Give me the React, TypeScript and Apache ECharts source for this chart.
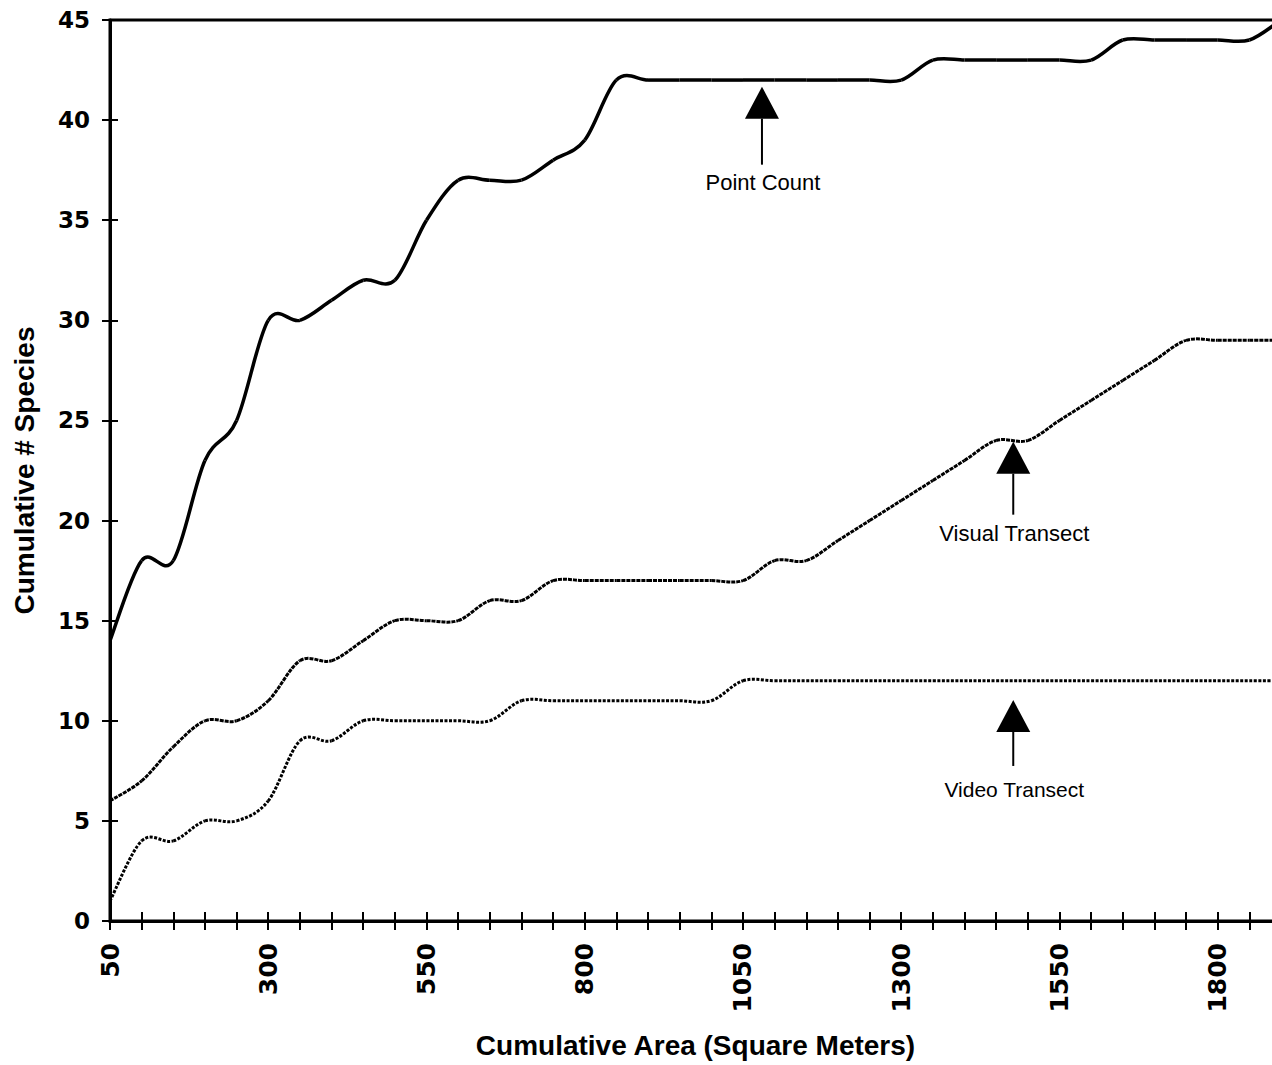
import React, { useEffect, useRef } from "react";
import * as echarts from "echarts";

// Cumulative area (square meters) sampled every 50 m²
const areaSqM = [
  50, 100, 150, 200, 250, 300, 350, 400, 450, 500, 550, 600, 650, 700, 750, 800, 850, 900, 950,
  1000, 1050, 1100, 1150, 1200, 1250, 1300, 1350, 1400, 1450, 1500, 1550, 1600, 1650, 1700, 1750,
  1800, 1850, 1900,
];

// Cumulative # species per method
const pointCount = [
  14, 18, 18, 23, 25, 30, 30, 31, 32, 32, 35, 37, 37, 37, 38, 39, 42, 42, 42,
  42, 42, 42, 42, 42, 42, 42, 43, 43, 43, 43, 43, 43, 44, 44, 44,
  44, 44, 45,
];
const visualTransect = [
  6, 7, 8.7, 10, 10, 11, 13, 13, 14, 15, 15, 15, 16, 16, 17, 17, 17, 17, 17,
  17, 17, 18, 18, 19, 20, 21, 22, 23, 24, 24, 25, 26, 27, 28, 29,
  29, 29, 29,
];
const videoTransect = [
  1, 4, 4, 5, 5, 6, 9, 9, 10, 10, 10, 10, 10, 11, 11, 11, 11, 11, 11,
  11, 12, 12, 12, 12, 12, 12, 12, 12, 12, 12, 12, 12, 12, 12, 12,
  12, 12, 12,
];

// Labelled ticks on the area axis
const xLabelValues = [50, 300, 550, 800, 1050, 1300, 1550, 1800];

// Arrow annotations (anchored at the arrow tip in data coordinates)
const annotations = [
  { text: "Point Count", area: 1080, species: 41.67 },
  { text: "Visual Transect", area: 1477, species: 23.94 },
  { text: "Video Transect", area: 1477, species: 11.04 },
];
const annotationLayout = [
  { stem: 78, labelDy: 96, fontSize: 22 },
  { stem: 73, labelDy: 92, fontSize: 22 },
  { stem: 66, labelDy: 90, fontSize: 21 },
];

const zip = (xs: number[], ys: number[]) => xs.map((x, i) => [x, ys[i]]);

// Smoothed line (Catmull-Rom style Bezier, like a spreadsheet "smoothed line"),
// each segment drawn between two data points through the axis scales.
function smoothLineSeries(name: string, values: number[], lineStyle: any) {
  return {
    name,
    type: "custom",
    coordinateSystem: "cartesian2d",
    clip: true,
    encode: { x: 0, y: 1 },
    data: zip(areaSqM, values),
    renderItem: (params: any, api: any) => {
      const i = params.dataIndex;
      const n = values.length;
      if (i >= n - 1) return null;
      const pt = (j: number) => {
        const k = Math.max(0, Math.min(n - 1, j));
        return api.coord([areaSqM[k], values[k]]);
      };
      const p0 = pt(i - 1);
      const p1 = pt(i);
      const p2 = pt(i + 1);
      const p3 = pt(i + 2);
      return {
        type: "bezierCurve",
        shape: {
          x1: p1[0],
          y1: p1[1],
          x2: p2[0],
          y2: p2[1],
          cpx1: p1[0] + (p2[0] - p0[0]) / 6,
          cpy1: p1[1] + (p2[1] - p0[1]) / 6,
          cpx2: p2[0] - (p3[0] - p1[0]) / 6,
          cpy2: p2[1] - (p3[1] - p1[1]) / 6,
        },
        style: { fill: "none", ...lineStyle },
      };
    },
  };
}

export default function App() {
  const ref = useRef<HTMLDivElement>(null);

  useEffect(() => {
    if (!ref.current) return;
    const chart = echarts.init(ref.current, undefined, { renderer: "svg" });

    const tickFont = '"DejaVu Sans"';
    const baseX = {
      type: "value" as const,
      min: 50,
      max: 1900,
      interval: 50,
      splitLine: { show: false },
    };
    const baseY = {
      type: "value" as const,
      min: 0,
      max: 45,
      interval: 5,
      splitLine: { show: false },
    };

    chart.setOption({
      animation: false,
      backgroundColor: "#ffffff",
      grid: {
        left: 110,
        top: 20,
        width: 1171,
        height: 901,
        show: true,
        borderColor: "#000",
        borderWidth: 3,
        backgroundColor: "transparent",
      },
      xAxis: [
        {
          ...baseX,
          position: "bottom",
          name: "Cumulative Area (Square Meters)",
          nameLocation: "middle",
          nameGap: 110,
          nameTextStyle: {
            fontFamily: '"Liberation Sans", Arial, sans-serif',
            fontWeight: "bold",
            fontSize: 28,
            color: "#000",
          },
          axisLine: { show: true, lineStyle: { color: "#000", width: 3 } },
          axisTick: { show: true, inside: false, length: 9, lineStyle: { color: "#000", width: 2 } },
          axisLabel: {
            rotate: 90,
            margin: 22,
            fontFamily: tickFont,
            fontWeight: "bold",
            fontSize: 25,
            color: "#000",
            formatter: (v: number) => (xLabelValues.includes(v) ? String(v) : ""),
          },
        },
        {
          ...baseX,
          position: "bottom",
          axisLine: { show: false },
          axisTick: { show: true, inside: true, length: 9, lineStyle: { color: "#000", width: 2 } },
          axisLabel: { show: false },
        },
      ],
      yAxis: [
        {
          ...baseY,
          position: "left",
          name: "Cumulative # Species",
          nameLocation: "middle",
          nameRotate: 90,
          nameGap: 72,
          nameTextStyle: {
            fontFamily: '"Liberation Sans", Arial, sans-serif',
            fontWeight: "bold",
            fontSize: 28,
            color: "#000",
          },
          axisLine: { show: true, lineStyle: { color: "#000", width: 3 } },
          axisTick: { show: true, inside: false, length: 8, lineStyle: { color: "#000", width: 2 } },
          axisLabel: {
            margin: 20,
            fontFamily: tickFont,
            fontWeight: "bold",
            fontSize: 23,
            color: "#000",
          },
        },
        {
          ...baseY,
          position: "left",
          axisLine: { show: false },
          axisTick: { show: true, inside: true, length: 8, lineStyle: { color: "#000", width: 2 } },
          axisLabel: { show: false },
        },
      ],
      series: [
        smoothLineSeries("Point Count", pointCount, { stroke: "#000", lineWidth: 3.5 }),
        smoothLineSeries("Visual Transect", visualTransect, {
          stroke: "#000",
          lineWidth: 3,
          lineDash: [4, 1],
        }),
        smoothLineSeries("Video Transect", videoTransect, {
          stroke: "#000",
          lineWidth: 3,
          lineDash: [3, 1.5],
        }),
      ],
    });

    const graphics: any[] = [];
    annotations.forEach((a, i) => {
      const lay = annotationLayout[i];
      const [px, py] = chart.convertToPixel({ gridIndex: 0 }, [a.area, a.species]) as number[];
      graphics.push({
        type: "polygon",
        shape: { points: [[px, py], [px - 17, py + 32], [px + 17, py + 32]] },
        style: { fill: "#000" },
        z: 100,
      });
      graphics.push({
        type: "line",
        shape: { x1: px, y1: py + 32, x2: px, y2: py + lay.stem },
        style: { stroke: "#000", lineWidth: 2 },
        z: 100,
      });
      graphics.push({
        type: "text",
        x: px + 1,
        y: py + lay.labelDy,
        style: {
          text: a.text,
          fill: "#000",
          font: `${lay.fontSize}px "Liberation Sans", Arial, sans-serif`,
          textAlign: "center",
          textVerticalAlign: "middle",
          align: "center",
          verticalAlign: "middle",
        },
        z: 100,
      });
    });
    chart.setOption({ graphic: graphics });

    return () => chart.dispose();
  }, []);

  return (
    <div
      style={{
        position: "fixed",
        left: 0,
        top: 0,
        width: 1272,
        height: 1065,
        overflow: "hidden",
        background: "#fff",
      }}
    >
      <div ref={ref} style={{ width: 1300, height: 1065 }} />
    </div>
  );
}
